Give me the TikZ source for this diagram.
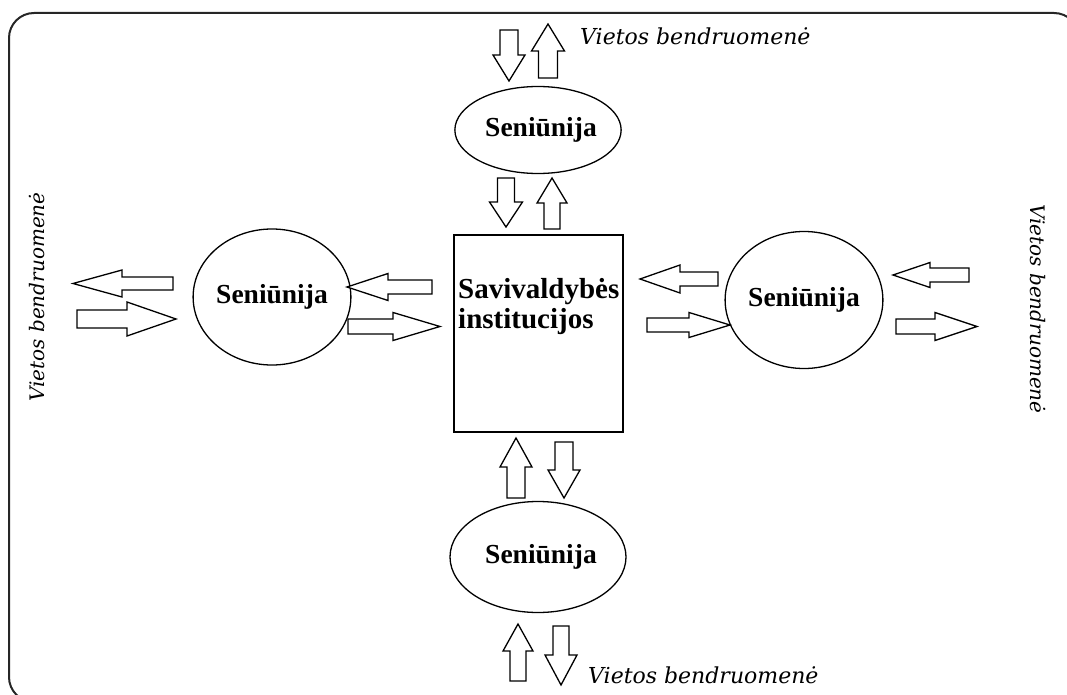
\documentclass[tikz,border=0pt]{standalone}
\usepackage{fontspec}
\setmainfont{Liberation Serif}
\newfontfamily\commfont{DejaVu Serif}
\usepackage{tikz}
\usetikzlibrary{shapes.geometric}
\newcommand{\senfont}{\fontsize{27.5}{30}\selectfont\bfseries}
\newcommand{\commlabel}{\commfont\itshape Vietos bendruomenė}
% block arrow: tail x, tail y, angle, length, head length, shaft half, head half
\newcommand{\fatarrow}[7]{%
  \begin{scope}[shift={(#1,#2)}, rotate=#3]
    \draw[arrowbox] (0,-#6) -- ({#4-#5},-#6) -- ({#4-#5},-#7) -- (#4,0)
      -- ({#4-#5},#7) -- ({#4-#5},#6) -- (0,#6) -- cycle;
  \end{scope}}
\tikzset{
  frame/.style={line width=2pt, draw=black!85, rounded corners=25pt},
  senbox/.style={ellipse, draw, line width=1.3pt, inner sep=0pt, font=\senfont},
  instbox/.style={draw, line width=1.5pt, minimum width=169pt, minimum height=197pt, inner sep=0pt},
  arrowbox/.style={line width=1.3pt, fill=white, line join=miter},
  commtext/.style={font=\fontsize{22}{24}\selectfont, inner sep=0pt},
}
\begin{document}
\begin{tikzpicture}[x=1pt,y=-1pt]
  \path[use as bounding box, clip] (0,0) rectangle (1067,695);
  \draw[frame] (9,13) rectangle (1079,702);

  % nodes
  \node[instbox] (inst) at (538.5,333.5) {};
  \node[anchor=west, align=left, font=\fontsize{29}{30}\selectfont\bfseries, inner sep=0pt] (insttxt) at (458,307) {Savivaldybės\\institucijos};
  \node[senbox, minimum width=150pt, minimum height=87pt] (senN) at (538,130) {\hspace{6pt}Seniūnija};
  \node[senbox, minimum width=120pt, minimum height=136pt] (senW) at (272,297) {Seniūnija};
  \node[senbox, minimum width=138pt, minimum height=137pt] (senE) at (804,300) {Seniūnija};
  \node[senbox, minimum width=176pt, minimum height=111pt] (senS) at (538,557) {\hspace{6pt}Seniūnija};

  % labels
  \node[commtext, anchor=base west] (commN) at (580,45) {\commlabel};
  \node[commtext, anchor=base west] (commS) at (588,683) {\commlabel};
  \node[commtext, rotate=90, font=\fontsize{20}{22}\selectfont] (commW) at (37,297) {\commlabel};
  \node[commtext, rotate=-90, font=\fontsize{20}{22}\selectfont] (commE) at (1038,309) {\commlabel};

  % arrows top
  \fatarrow{509}{30}{-90}{51}{26}{9}{16}
  \fatarrow{548}{78}{90}{54}{27}{9.5}{16.5}
  \fatarrow{506}{178}{-90}{49}{25}{8.5}{16.5}
  \fatarrow{552}{229}{90}{51}{25}{8}{15}
  % arrows bottom
  \fatarrow{516}{498}{90}{60}{29}{9}{16}
  \fatarrow{564}{442}{-90}{56}{28}{9}{16}
  \fatarrow{518}{681}{90}{57}{27}{8}{15}
  \fatarrow{561}{626}{-90}{59}{30}{8}{16}
  % arrows left
  \fatarrow{173}{283.5}{180}{100}{49}{6.5}{13.5}
  \fatarrow{77}{319}{0}{99}{49}{9}{17}
  \fatarrow{432}{287}{180}{85}{41}{7}{13.5}
  \fatarrow{348}{326.5}{0}{92}{47}{7.5}{14}
  % arrows right
  \fatarrow{718}{279}{180}{78}{40}{7}{14}
  \fatarrow{647}{325}{0}{83}{41}{7}{12.5}
  \fatarrow{969}{275}{180}{76}{37}{7}{12.5}
  \fatarrow{896}{326.5}{0}{81}{42}{7.5}{14}
\end{tikzpicture}
\end{document}
